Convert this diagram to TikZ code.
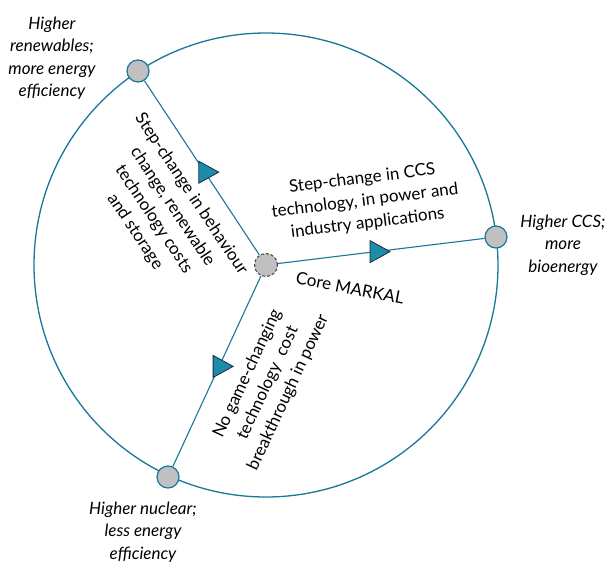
\documentclass[tikz,border=0pt]{standalone}
\usepackage{fontspec}
\setmainfont{Lato}
\usetikzlibrary{calc,backgrounds}
\definecolor{ringblue}{RGB}{24,120,152}
\definecolor{trifill}{RGB}{28,140,170}
\definecolor{triedge}{RGB}{25,45,60}
\definecolor{nodegray}{RGB}{192,192,192}
\tikzset{
  ring/.style={draw=ringblue, line width=1.3pt},
  spoke/.style={draw=ringblue, line width=1.1pt},
  endpt/.style={circle, draw=ringblue, line width=1.2pt, fill=nodegray, minimum size=22pt, inner sep=0pt},
  corept/.style={circle, draw=black!75, dashed, dash pattern=on 3pt off 2pt, line width=1pt, fill=nodegray, minimum size=23pt, inner sep=0pt},
  trimark/.style={fill=trifill, draw=triedge, line width=0.8pt, line join=miter},
  outerlbl/.style={font=\itshape\fontsize{17}{22.5}\selectfont, align=center, inner sep=0pt},
  innerlbl/.style={font=\fontsize{17}{22.5}\selectfont, align=center, inner sep=0pt},
}
\begin{document}
\begin{tikzpicture}[x=1pt,y=-1pt]
\useasboundingbox (0,0) rectangle (613,562);
% nodes
\node[corept] (C) at (266,265) {};
\node[endpt] (TL) at (138,71) {};
\node[endpt] (R) at (496,237) {};
\node[endpt] (B) at (168,477) {};
\begin{scope}[on background layer]
  \fill[white] (0,0) rectangle (613,562);
  \draw[ring] (C.center) circle (232);
  \draw[spoke] (C) -- (TL) coordinate[pos=0.475] (tTL);
  \draw[spoke] (C) -- (R) coordinate[pos=0.475] (tR);
  \draw[spoke] (C) -- (B) coordinate[pos=0.475] (tB);
\end{scope}
% direction marks
\foreach \p in {tTL,tR,tB}{
  \draw[trimark] ($(\p)+(-6,-11)$) -- ($(\p)+(-6,11)$) -- ($(\p)+(14,0)$) -- cycle;
}
% labels
\node[innerlbl, rotate=7] (ccs) at (365,201) {Step-change in CCS\\technology, in power and\\industry applications};
\node[innerlbl, rotate=-11] (core) at (350,288) {Core MARKAL};
\node[innerlbl, rotate=-56.4] (beh) at (163,213) {Step-change in behaviour\\change, renewable\\technology costs\\and storage};
\node[innerlbl, rotate=65] (nog) at (268,383) {No game-changing\\technology\ \ cost\\breakthrough in power};
\node[outerlbl] (lTL) at (52,58) {Higher\\renewables;\\more energy\\efficiency};
\node[outerlbl] (lR) at (563,245) {Higher CCS;\\more\\bioenergy};
\node[outerlbl] (lB) at (143,532) {Higher nuclear;\\less energy\\efficiency};
\end{tikzpicture}
\end{document}
